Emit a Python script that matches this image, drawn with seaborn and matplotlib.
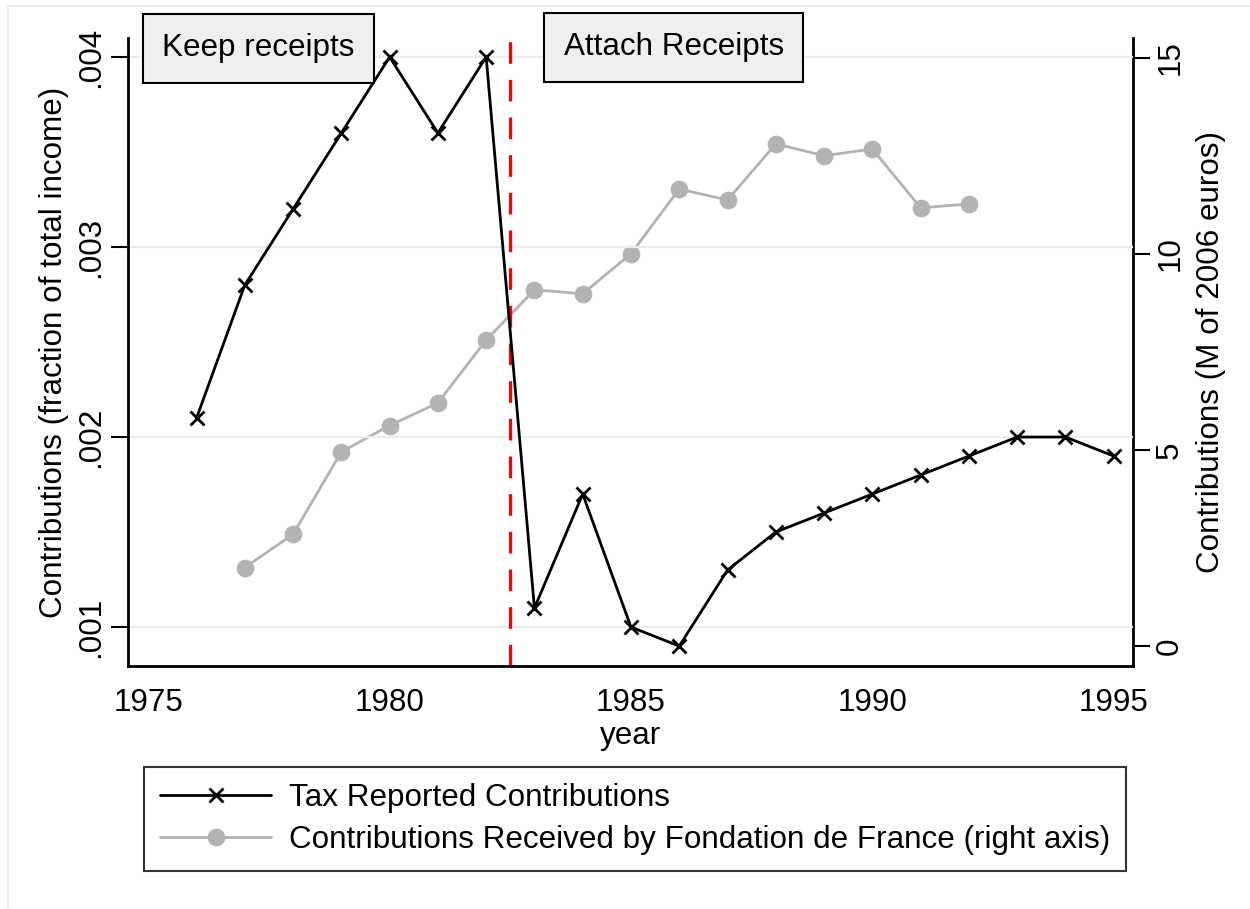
import numpy as np
import pandas as pd
import matplotlib
matplotlib.use("Agg")
import matplotlib.pyplot as plt
import seaborn as sns
from matplotlib.patches import Rectangle

# data
tax_years = [1976, 1977, 1978, 1979, 1980, 1981, 1982, 1983, 1984, 1985,
             1986, 1987, 1988, 1989, 1990, 1991, 1992, 1993, 1994, 1995]
tax_share = [0.0021, 0.0028, 0.0032, 0.0036, 0.0040, 0.0036, 0.0040, 0.0011, 0.0017, 0.0010,
             0.0009, 0.0013, 0.0015, 0.0016, 0.0017, 0.0018, 0.0019, 0.0020, 0.0020, 0.0019]

fdf_years = [1977, 1978, 1979, 1980, 1981, 1982, 1983, 1984, 1985, 1986,
             1987, 1988, 1989, 1990, 1991, 1992]
fdf_euros = [2.0, 2.85, 4.95, 5.62, 6.2, 7.8, 9.08, 8.98, 10.0, 11.65,
             11.37, 12.8, 12.5, 12.67, 11.17, 11.27]

left_ticks = [0.001, 0.002, 0.003, 0.004]
left_labels = [".001", ".002", ".003", ".004"]
right_ticks = [0, 5, 10, 15]
year_ticks = [1975, 1980, 1985, 1990, 1995]
reform_year = 1982.5

tax_df = pd.DataFrame({"year": tax_years, "share": tax_share})
fdf_df = pd.DataFrame({"year": fdf_years, "euros": fdf_euros})

sns.set_style("white")
plt.rcParams["font.family"] = ["Liberation Sans", "DejaVu Sans"]
for key in ("text.color", "axes.labelcolor", "xtick.color", "ytick.color"):
    plt.rcParams[key] = "black"
fs = 22.6

fig = plt.figure(figsize=(12.5, 9.09), dpi=100)
ax = fig.add_axes([0.1024, 0.2673, 0.804, 0.6909])
ax2 = ax.twinx()

# faint outer frame like the Stata graph region
fig.patches.append(Rectangle((8 / 1250, -0.01), 1.02, 1 - 6 / 909 + 0.01,
                             transform=fig.transFigure, fill=False,
                             ec="#e4ecec", lw=1.2, zorder=0))

grey = "#b3b3b3"
sns.lineplot(data=fdf_df, x="year", y="euros", ax=ax2, color=grey, lw=2,
             marker="o", markersize=12, markeredgecolor=grey,
             label="Contributions Received by Fondation de France (right axis)",
             legend=False)
sns.lineplot(data=tax_df, x="year", y="share", ax=ax, color="black", lw=2,
             marker="x", markersize=10, markeredgewidth=2,
             markeredgecolor="black",
             label="Tax Reported Contributions", legend=False)
ax.set_zorder(ax2.get_zorder() + 1)
ax.patch.set_visible(False)

for yv in left_ticks:
    ax.axhline(yv, color="#e6efef", lw=1.6, zorder=0)
ax.axvline(reform_year, color="#ff0000", lw=2.4, ls=(0, (6.5, 4.8)), zorder=1)

ax.set_xlim(1974.58, 1995.40)
ax.set_ylim(0.000795, 0.0041)
ax2.set_ylim(-0.51, 15.5)

ax.set_xticks(year_ticks)
ax.set_yticks(left_ticks)
ax.set_yticklabels(left_labels, rotation=90, va="center")
ax2.set_yticks(right_ticks)
ax2.set_yticklabels([str(t) for t in right_ticks], rotation=90, va="center")

for a in (ax, ax2):
    a.tick_params(axis="both", labelsize=fs, length=12, width=1.5,
                  direction="out", color="black", pad=4)
    a.spines["top"].set_visible(False)
    for s in ("left", "right", "bottom"):
        a.spines[s].set_linewidth(2)
        a.spines[s].set_color("black")
ax.spines["right"].set_visible(False)
ax2.spines["left"].set_visible(False)
ax2.spines["bottom"].set_visible(False)
ax.tick_params(axis="x", length=10, pad=6)

ax.set_xlabel("year", fontsize=fs, labelpad=2)
ax.set_ylabel("Contributions (fraction of total income)", fontsize=fs, labelpad=5)
ax2.set_ylabel("Contributions (M of 2006 euros)", fontsize=fs, labelpad=8)

box = dict(boxstyle="square,pad=0.62", fc="#efefef", ec="black", lw=1.5)
ax.text(1977.28, 0.004047, "Keep receipts", fontsize=fs, ha="center",
        va="center", bbox=box, zorder=5)
ax.text(1985.89, 0.004052, "Attach Receipts", fontsize=fs, ha="center",
        va="center", bbox=box, zorder=5)

h1 = [l for l in ax.get_lines() if l.get_label() == "Tax Reported Contributions"]
h2 = [l for l in ax2.get_lines() if l.get_label().startswith("Contributions Received")]
leg = fig.legend(h1 + h2, [h.get_label() for h in h1 + h2],
                 loc="upper center", bbox_to_anchor=(0.508, 1 - 767 / 909),
                 fontsize=fs, frameon=True, fancybox=False, edgecolor="black",
                 handlelength=3.55, handletextpad=0.55, borderpad=0.5,
                 labelspacing=0.4, borderaxespad=0)
leg.get_frame().set_linewidth(1.5)

fig.savefig("out.png", dpi=100, facecolor="white")
